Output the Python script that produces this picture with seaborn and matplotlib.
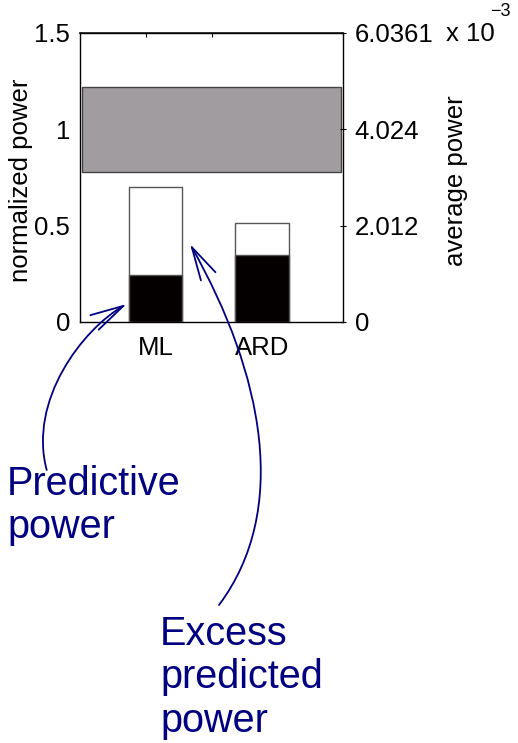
import matplotlib
matplotlib.use("Agg")
import matplotlib.pyplot as plt
from matplotlib.path import Path
from matplotlib.patches import FancyArrowPatch
import seaborn as sns
import pandas as pd

# --- data -------------------------------------------------------------
categories = ["ML", "ARD"]
predictive_power = [0.245, 0.35]        # black part of each bar
predicted_power = [0.70, 0.515]         # full bar height (predictive + excess)
band_low, band_high = 0.777, 1.221      # grey reference band (normalized power)
left_ticks = [0, 0.5, 1, 1.5]
right_ticks = [0, 2.012, 4.024, 6.0361]
right_labels = ["0", "2.012", "4.024", "6.0361"]

sns.set_theme(style="white")
plt.rcParams["font.family"] = ["Liberation Sans", "DejaVu Sans"]
plt.rcParams["text.color"] = "black"

W, H = 518, 743
fig = plt.figure(figsize=(W / 100, H / 100), dpi=100)
ax = fig.add_axes([80 / W, 1 - 322 / H, 263 / W, 289 / H])

df = pd.DataFrame({"method": categories,
                   "predicted": predicted_power,
                   "predictive": predictive_power})

ax.axhspan(band_low, band_high, xmin=0.009, xmax=0.993,
           facecolor="#a09c9f", edgecolor="#444444", linewidth=1.0, zorder=1)
sns.barplot(data=df, x="method", y="predicted", color="white", saturation=1,
            edgecolor="#555555", linewidth=1.0, width=0.5, ax=ax, zorder=2)
sns.barplot(data=df, x="method", y="predictive", color="#050000", saturation=1,
            edgecolor="#555555", linewidth=1.0, width=0.5, ax=ax, zorder=3)

ax.set_xlim(-0.712, 1.762)
ax.set_ylim(0, 1.5)
ax.set_yticks(left_ticks)
ax.set_yticklabels(["0", "0.5", "1", "1.5"])
ax.set_xlabel("")
ax.set_ylabel("")
ax.tick_params(axis="both", labelsize=18.5, length=0, pad=7, colors="black")
ax.tick_params(axis="x", pad=10)
for s in ax.spines.values():
    s.set_color("black")
    s.set_linewidth(1.0)

top = ax.secondary_xaxis("top")
top.set_xticks([-0.091, 0.530])
top.set_xticklabels([])
top.tick_params(direction="in", length=3, width=0.8, colors="black")

ax2 = ax.twinx()
ax2.set_ylim(0, 6.0361)
ax2.set_yticks(right_ticks)
ax2.set_yticklabels(right_labels)
ax2.tick_params(axis="y", labelsize=18.5, direction="inout", length=5, width=0.8,
                pad=6, colors="black")
ax2.set_ylabel("")
ax2.grid(False)
for s in ax2.spines.values():
    s.set_visible(False)

# axis titles
fig.text(21 / W, 1 - 180 / H, "normalized power", fontsize=18.5,
         rotation=90, ha="center", va="center", color="black")
fig.text(456 / W, 1 - 181 / H, "average power", fontsize=18.5,
         rotation=90, ha="center", va="center", color="black")

# exponent of the right axis
fig.text(446 / W, 1 - 34 / H, "x 10", fontsize=18.5, ha="left", va="center",
         color="black")
fig.text(490 / W, 1 - 12 / H, "\u22123", fontsize=13, ha="left", va="center",
         color="black")

navy = "#000080"


def px(x, y):
    return (x / W, 1 - y / H)


def curved_arrow(pts):
    verts = [px(*p) for p in pts]
    path = Path(verts, [Path.MOVETO, Path.CURVE4, Path.CURVE4, Path.CURVE4])
    arr = FancyArrowPatch(path=path, transform=fig.transFigure,
                          arrowstyle="->,head_length=24,head_width=6",
                          color=navy, linewidth=1.3, shrinkA=0, shrinkB=0)
    fig.add_artist(arr)


curved_arrow([(46.7, 470), (28, 400), (83, 329), (126.7, 304)])
curved_arrow([(219, 605), (290, 510), (263.5, 374.5), (190, 244)])


def note(x, baselines, lines):
    for yb, line in zip(baselines, lines):
        fig.text(x / W, 1 - yb / H, line, fontsize=28.5, color=navy,
                 ha="left", va="baseline")


note(7, [495, 538], ["Predictive", "power"])
note(160, [645, 688.5, 731.5], ["Excess", "predicted", "power"])

fig.savefig("out.png", dpi=100)
